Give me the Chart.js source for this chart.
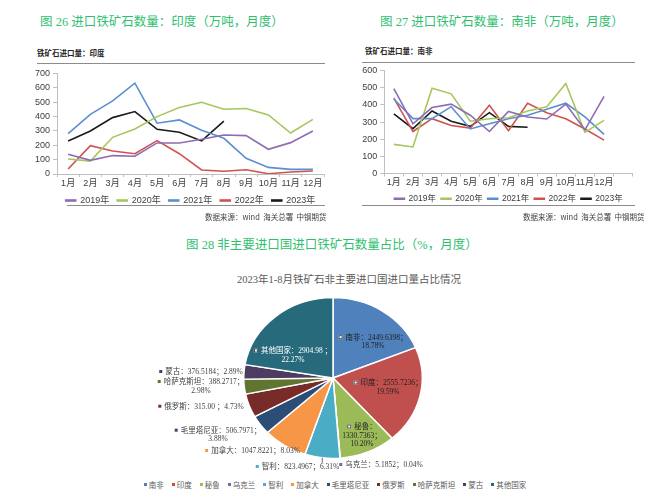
<!DOCTYPE html>
<html><head><meta charset="utf-8">
<script src="https://cdn.jsdelivr.net/npm/chart.js@4.4.0/dist/chart.umd.min.js"></script>
<style>
html,body{margin:0;padding:0;background:#fff;}
#page{position:relative;width:656px;height:501px;overflow:hidden;background:#fff;font-family:"Noto Sans CJK SC",sans-serif;}
.cap{position:absolute;color:#2fbf71;font-family:"Liberation Serif","Noto Sans CJK SC",serif;font-size:12.5px;white-space:nowrap;line-height:1;}
.ttl{position:absolute;font-size:7.5px;font-weight:bold;color:#262626;white-space:nowrap;line-height:1;}
.src{position:absolute;font-size:7.5px;color:#404040;white-space:nowrap;line-height:1;}
.rule{position:absolute;height:0;border-top:1px solid #8c8c8c;}
.ptitle{position:absolute;font-family:"Liberation Serif","Noto Sans CJK SC",serif;font-size:10.5px;color:#595959;white-space:nowrap;line-height:1;}
#pieLegend{position:absolute;left:0;width:670px;top:480px;display:flex;justify-content:center;gap:8px;font-size:7.5px;color:#595959;line-height:10px;}
#pieLegend span.m{display:inline-block;width:3px;height:3px;margin-right:2px;vertical-align:middle;position:relative;top:-1px;}
canvas{position:absolute;}
</style></head>
<body><div id="page">
<div class="cap" style="left:40px;top:16px;">图 26 进口铁矿石数量：印度（万吨，月度）</div>
<div class="cap" style="left:380px;top:16px;">图 27 进口铁矿石数量：南非（万吨，月度）</div>
<div class="ttl" style="left:37px;top:49px;">铁矿石进口量：印度</div>
<div class="ttl" style="left:365px;top:47px;">铁矿石进口量：南非</div>
<div class="rule" style="left:37px;top:63px;width:288px;"></div>
<div class="rule" style="left:362px;top:62px;width:273px;"></div>
<canvas id="c1" width="313" height="151" style="left:30px;top:64px;"></canvas>
<canvas id="c2" width="296" height="151" style="left:360px;top:62px;"></canvas>
<div class="rule" style="left:67px;top:205px;width:258px;"></div>
<div class="rule" style="left:362px;top:205px;width:273px;"></div>
<div class="src" style="left:205px;top:213px;">数据来源：wind&nbsp;&nbsp;海关总署&nbsp;&nbsp;中钢期货</div>
<div class="src" style="left:523px;top:213px;">数据来源：wind&nbsp;&nbsp;海关总署&nbsp;&nbsp;中钢期货</div>
<div class="cap" style="left:186px;top:239px;">图 28 非主要进口国进口铁矿石数量占比（%，月度）</div>
<div class="ptitle" style="left:237px;top:275px;">2023年1-8月铁矿石非主要进口国进口量占比情况</div>
<canvas id="c3" width="656" height="215" style="left:0px;top:260px;"></canvas>
<div id="pieLegend"></div>
</div>
<script>
// ---------- data ----------
const months = ['1月','2月','3月','4月','5月','6月','7月','8月','9月','10月','11月','12月'];
const yearNames = ['2019年','2020年','2021年','2022年','2023年'];
const yearColors = ['#8e6bb5','#a5c75d','#5b8fd0','#d0524f','#1a1a1a'];

const india2019 = [137, 95, 128, 123, 216, 216, 241, 271, 267, 172, 218, 299];
const india2020 = [104, 90, 255, 313, 399, 462, 499, 450, 455, 411, 285, 380];
const india2021 = [281, 415, 508, 631, 353, 376, 304, 248, 109, 46, 32, 32];
const india2022 = [35, 197, 160, 141, 232, 141, 28, 19, 30, 2, 14, 21];
const india2023 = [230, 299, 392, 434, 311, 290, 230, 367];

const sa2019 = [495, 290, 385, 405, 340, 245, 362, 330, 318, 405, 255, 450];
const sa2020 = [170, 155, 498, 465, 305, 320, 325, 365, 390, 525, 240, 310];
const sa2021 = [435, 320, 320, 390, 260, 290, 320, 340, 375, 410, 330, 228];
const sa2022 = [440, 245, 320, 280, 265, 398, 250, 410, 355, 320, 260, 195];
const sa2023 = [348, 262, 365, 305, 275, 355, 275, 270];

const pieCountries = ['南非','印度','秘鲁','乌克兰','智利','加拿大','毛里塔尼亚','俄罗斯','哈萨克斯坦','蒙古','其他国家'];
const pieValueText = ['2449.6398','2555.7236','1330.7363','5.1852','823.4967','1047.8221','506.7971','315.00 ','388.2717','376.5184','2904.98 '];
const piePercents = [18.78, 19.59, 10.20, 0.04, 6.31, 8.03, 3.88, 4.73, 2.98, 2.89, 22.27];
const pieColors = ['#4F81BD','#C0504D','#9BBB59','#8064A2','#4BACC6','#F79646','#2C4D75','#772C2A','#5F7530','#4D3B62','#276A7C'];

// label layout (canvas coords of c3): block centre x, first line centre y, wrap style
const pieLabelLayout = [
  {x:373, y:77.7, wrap:'vp', inside:true, color:'#1f1f1f'},
  {x:388, y:123, wrap:'vp', inside:true, color:'#1f1f1f'},
  {x:362, y:167, wrap:'nvp', inside:true, color:'#1f1f1f'},
  {x:381, y:205, wrap:'one'},
  {x:297.5, y:207, wrap:'one', leader:true},
  {x:252.5, y:191, wrap:'one'},
  {x:218, y:170.7, wrap:'vp'},
  {x:201, y:146.7, wrap:'one'},
  {x:201, y:122, wrap:'vp'},
  {x:201, y:112, wrap:'one'},
  {x:293, y:91, wrap:'vp', inside:true, color:'#ffffff'}
];
const PIE_Y_RATIO = 81/90;

// ---------- line charts ----------
const FONT = '"Liberation Sans","Noto Sans CJK SC",sans-serif';
Chart.defaults.font.family = FONT;
Chart.defaults.animation = false;

function mkSets(arrs){
  return arrs.map((d,i)=>({label:yearNames[i],data:d,borderColor:yearColors[i],backgroundColor:yearColors[i],
    borderWidth:1.6,pointRadius:0,tension:0,fill:false}));
}
function lineOpts(ymax, yWidth, padRight, padTop, legFont, legPad, xH){
  return {
    responsive:false, animation:false,
    layout:{padding:{left:0,right:padRight,top:padTop,bottom:0}},
    plugins:{
      legend:{position:'bottom',fullSize:false,
        labels:{boxWidth:10,boxHeight:1,font:{size:legFont},color:'#404040',padding:legPad}},
      tooltip:{enabled:false}
    },
    scales:{
      x:{offset:true,
        grid:{display:true,drawOnChartArea:false,drawTicks:true,tickLength:3,color:'#bfbfbf',offset:true},
        border:{color:'#bfbfbf'},
        ticks:{font:{size:9},color:'#404040',padding:1,maxRotation:0,autoSkip:false},
        afterFit:s=>{s.height=xH;}},
      y:{min:0,max:ymax,
        grid:{display:true,drawOnChartArea:false,drawTicks:true,tickLength:4,color:'#bfbfbf'},
        border:{color:'#bfbfbf'},
        ticks:{stepSize:100,font:{size:9},color:'#404040',padding:3},
        afterFit:s=>{s.width=yWidth;}}
    }
  };
}
const ch1 = new Chart(document.getElementById('c1'),{type:'line',
  data:{labels:months,datasets:mkSets([india2019,india2020,india2021,india2022,india2023])},
  options:lineOpts(700,27,19,9.3,9,8,14)});
const ch2 = new Chart(document.getElementById('c2'),{type:'line',
  data:{labels:months.concat(['']),datasets:mkSets([sa2019,sa2020,sa2021,sa2022,sa2023])},
  options:lineOpts(600,24.3,23.3,8.7,8.5,5,16)});

// ---------- pie ----------
const squash = {
  id:'squash',
  beforeDatasetsDraw(chart){
    const a = chart.getDatasetMeta(0).data[0]; const ctx = chart.ctx;
    ctx.save(); ctx.translate(a.x,a.y); ctx.scale(1,PIE_Y_RATIO); ctx.translate(-a.x,-a.y);
  },
  afterDatasetsDraw(chart){ chart.ctx.restore(); }
};
const pieLabels = {
  id:'pieLabels',
  afterDraw(chart){
    const ctx = chart.ctx; const arcs = chart.getDatasetMeta(0).data;
    const fs = 7.5, lh = 8.6;
    ctx.save();
    ctx.font = fs+'px "Liberation Serif","Noto Sans CJK SC",serif';
    ctx.textBaseline = 'middle';
    arcs.forEach((arc,i)=>{
      const L = pieLabelLayout[i];
      const name = pieCountries[i], val = pieValueText[i], pct = piePercents[i].toFixed(2)+'%';
      let lines;
      if (L.wrap==='vp') lines = [name+'：'+val+'；', pct];
      else if (L.wrap==='nvp') lines = [name+'：', val+'；', pct];
      else lines = [name+'：'+val+'；'+pct];
      const mk = L.inside ? 7 : 6;
      lines.forEach((t,j)=>{
        const w = ctx.measureText(t).width + (j===0?mk:0);
        let x0 = L.x - w/2; const y = L.y + j*lh;
        if (j===0){
          if (L.inside){
            ctx.fillStyle='#ffffff'; ctx.fillRect(x0,y-2.5,4,4);
            ctx.strokeStyle='#333333'; ctx.lineWidth=0.8; ctx.strokeRect(x0+0.5,y-2,3,3);
          } else {
            ctx.fillStyle=pieColors[i]; ctx.fillRect(x0,y-2,3,3);
          }
          x0 += mk;
        }
        ctx.fillStyle = L.color || '#404040';
        ctx.textAlign='left';
        ctx.fillText(t,x0,y);
      });
      if (L.leader){
        const mid = (arc.startAngle+arc.endAngle)/2;
        const r = arc.outerRadius;
        const px = arc.x + Math.cos(mid)*r, py = arc.y + Math.sin(mid)*r*PIE_Y_RATIO;
        ctx.strokeStyle='#404040'; ctx.lineWidth=0.8;
        ctx.beginPath(); ctx.moveTo(px,py); ctx.lineTo(px,py+5); ctx.stroke();
      }
    });
    ctx.restore();
  }
};
const ch3 = new Chart(document.getElementById('c3'),{type:'pie',
  data:{labels:pieCountries,datasets:[{data:piePercents,backgroundColor:pieColors,borderColor:'#ffffff',borderWidth:1.5}]},
  options:{responsive:false,animation:false,
    layout:{padding:{left:243,right:233,top:28,bottom:7}},
    plugins:{legend:{display:false},tooltip:{enabled:false}}},
  plugins:[squash,pieLabels]});

// pie legend
const lg = document.getElementById('pieLegend');
pieCountries.forEach((n,i)=>{
  const it = document.createElement('span');
  it.innerHTML = '<span class="m" style="background:'+pieColors[i]+'"></span>'+n;
  lg.appendChild(it);
});
</script>
</body></html>
